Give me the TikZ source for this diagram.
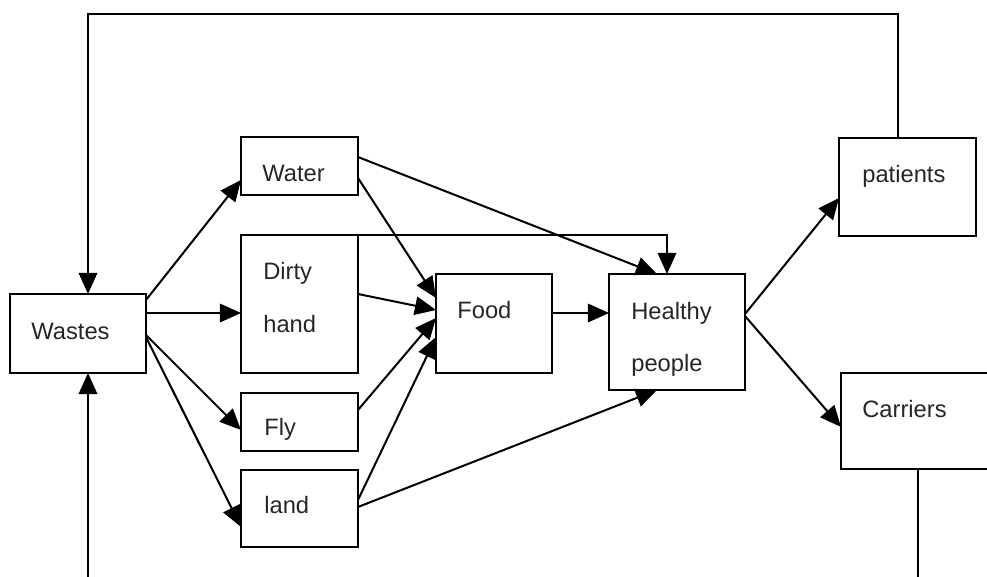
\documentclass[tikz,border=0pt]{standalone}
\usepackage{fontspec}
\setmainfont{Liberation Sans}
\usepackage{tikz}
\usetikzlibrary{arrows.meta,positioning}

\begin{document}
\begin{tikzpicture}[x=0.02cm, y=-0.02cm,
    box/.style={draw, line width=1pt, inner sep=0pt, outer sep=0pt},
    lbl/.style={anchor=base west, inner sep=0pt, text=black!85, font=\fontsize{13.5}{16}\selectfont},
    arr/.style={-{Triangle[length=12pt, width=10.5pt]}, line width=1.15pt}]
    % frame of the picture
    \clip (0,0) rectangle (987,577);
    
    % Boxes
    \node[box, minimum width=2.72cm, minimum height=1.58cm] (wastes) at (78,333.5) {};
    \node[box, minimum width=2.34cm, minimum height=1.16cm] (water) at (299.5,166) {};
    \node[box, minimum width=2.34cm, minimum height=2.76cm] (dirty) at (299.5,304) {};
    \node[box, minimum width=2.34cm, minimum height=1.16cm] (fly) at (299.5,422) {};
    \node[box, minimum width=2.34cm, minimum height=1.54cm] (land) at (299.5,508.5) {};
    \node[box, minimum width=2.32cm, minimum height=1.98cm] (food) at (494,323.5) {};
    \node[box, minimum width=2.72cm, minimum height=2.32cm] (healthy) at (677,332) {};
    \node[box, minimum width=2.74cm, minimum height=1.96cm] (patients) at (907.5,187) {};
    \node[box, minimum width=3.08cm, minimum height=1.92cm] (carriers) at (918,421) {};
    
    % Labels
    \node[lbl] (t-wastes) at (31,340) {Wastes};
    \node[lbl] (t-water) at (262,182) {Water};
    \node[lbl] (t-dirty) at (263,280) {Dirty};
    \node[lbl] (t-hand) at (263,333) {hand};
    \node[lbl] (t-fly) at (264,436) {Fly};
    \node[lbl] (t-land) at (264,513) {land};
    \node[lbl] (t-food) at (457,319) {Food};
    \node[lbl] (t-healthy) at (631,320) {Healthy};
    \node[lbl] (t-people) at (631,372) {people};
    \node[lbl] (t-patients) at (862,183) {patients};
    \node[lbl] (t-carriers) at (862,418) {Carriers};
    
    % From Wastes
    \draw[arr] (wastes.east |- 0,300) -- (water.west |- 0,180);
    \draw[arr] (wastes.east |- 0,313) -- (dirty.west |- 0,313);
    \draw[arr] (wastes.east |- 0,335) -- (fly.west |- 0,430);
    \draw[arr] (wastes.east |- 0,337) -- (land.west |- 0,527);
    
    % Into Food and Healthy people
    \draw[arr] (water.east |- 0,157) -- (healthy.north -| 657,0);
    \draw[arr] (water.east |- 0,178) -- (food.west |- 0,298);
    \draw[arr] (dirty.east |- 0,294) -- (food.west |- 0,310);
    \draw[arr] (dirty.north west) -| (healthy.north -| 667,0);
    \draw[arr] (fly.east |- 0,410) -- (food.west |- 0,318);
    \draw[arr] (land.east |- 0,500) -- (food.west |- 0,337);
    \draw[arr] (land.east |- 0,507) -- (healthy.south -| 657,0);
    \draw[arr] (food.east |- 0,313) -- (healthy.west |- 0,313);
    
    % Out of Healthy people
    \draw[arr] (healthy.east |- 0,314) -- (patients.west |- 0,198);
    \draw[arr] (healthy.east |- 0,316) -- (carriers.west |- 0,427);
    
    % Back to Wastes
    \coordinate (ptop) at (88,14);
    \coordinate (pbot) at (88,600);
    \draw[arr] (patients.north -| 898,0) |- (ptop) -- (wastes.north -| ptop);
    \draw[arr] (carriers.south -| 918,0) |- (pbot) -- (wastes.south -| pbot);
\end{tikzpicture}
\end{document}
